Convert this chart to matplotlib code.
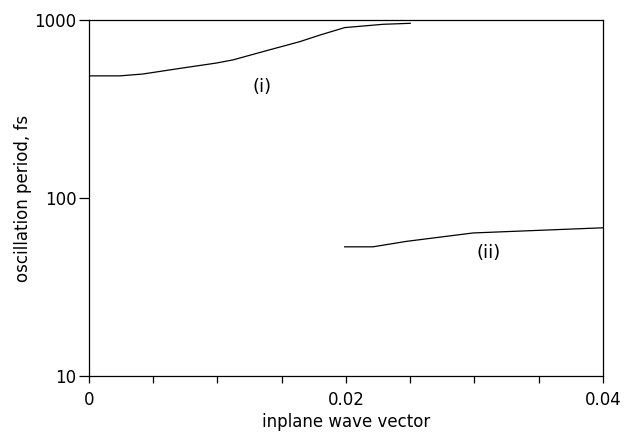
import numpy as np
import matplotlib

matplotlib.use("Agg")
import matplotlib.pyplot as plt
from matplotlib.ticker import FixedLocator, NullLocator

plt.rcParams.update({
    "font.family": ["DejaVu Sans"],
    "font.size": 12,
    "axes.linewidth": 0.9,
})

# branch (i): low-frequency mode
k_i = [0.0, 0.0024, 0.0042, 0.0071, 0.0099, 0.0112, 0.0138, 0.0164, 0.0180,
       0.0199, 0.0229, 0.0250]
T_i = [488, 488, 500, 538, 576, 600, 676, 760, 829, 912, 952, 964]

# branch (ii): high-frequency mode
k_ii = [0.0199, 0.0221, 0.0247, 0.0299, 0.0400]
T_ii = [53.3, 53.3, 57.2, 63.8, 68.2]

x_major = [0.0, 0.02, 0.04]
x_minor = [0.005, 0.01, 0.015, 0.025, 0.03, 0.035]
x_labels = ["0", "0.02", "0.04"]
y_ticks = [10, 100, 1000]
y_labels = ["10", "100", "1000"]

fig = plt.figure(figsize=(6.24, 4.34), dpi=100)
ax = fig.add_axes([0.1426, 0.1336, 0.8237, 0.8192])

ax.plot(k_i, T_i, color="black", lw=0.9)
ax.plot(k_ii, T_ii, color="black", lw=0.9)

ax.text(0.0135, 425, "(i)", ha="center", va="center", fontsize=13)
ax.text(0.0311, 49, "(ii)", ha="center", va="center", fontsize=13)

ax.set_yscale("log")
ax.set_xlim(0, 0.04)
ax.set_ylim(10, 1000)

ax.xaxis.set_major_locator(FixedLocator(x_major))
ax.xaxis.set_minor_locator(FixedLocator(x_minor))
ax.set_xticklabels(x_labels)
ax.yaxis.set_major_locator(FixedLocator(y_ticks))
ax.yaxis.set_minor_locator(NullLocator())
ax.set_yticklabels(y_labels)

ax.tick_params(axis="x", which="both", direction="out", length=5, width=0.9,
               pad=6, labelsize=12)
ax.tick_params(axis="y", which="major", direction="out", length=7, width=0.9,
               pad=2, labelsize=12)

ax.set_xlabel("inplane wave vector", fontsize=12, labelpad=3)
ax.set_ylabel("oscillation period, fs", fontsize=12, labelpad=2)

fig.savefig("out.png", dpi=100)
